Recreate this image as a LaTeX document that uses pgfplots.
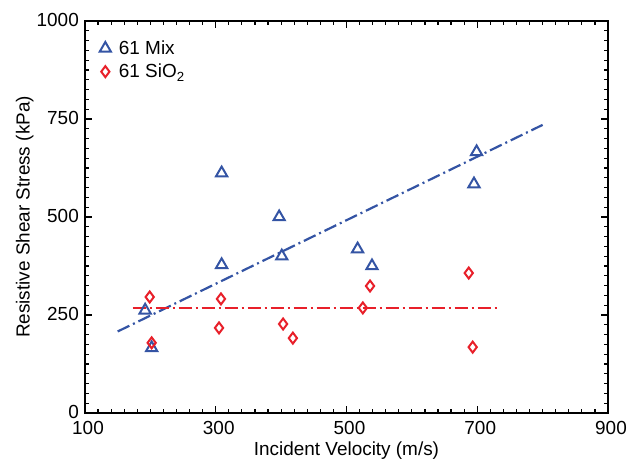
\documentclass[border=0pt]{standalone}
\usepackage{fontspec}
\setmainfont{Liberation Sans}
\usepackage{pgfplots}
\pgfplotsset{compat=1.18}
\definecolor{mixblue}{RGB}{52,84,164}
\definecolor{sired}{RGB}{232,32,42}

\begin{document}
\begin{tikzpicture}
\useasboundingbox (-85bp,-55bp) rectangle (557bp,413bp);
\begin{axis}[
  at={(0,0)}, anchor=south west,
  scale only axis, width=523bp, height=392bp,
  xmin=100, xmax=900, ymin=0, ymax=1000,
  xtick={100,300,500,700,900}, ytick={0,250,500,750,1000},
  minor x tick num=9, minor y tick num=9,
  tick align=inside, xtick pos=both, ytick pos=both,
  major tick length=7bp, minor tick length=4bp,
  every tick/.style={black, line width=1.2bp},
  axis line style={line width=1.8bp},
  tick label style={font=\fontsize{19}{22}\selectfont, inner sep=1bp},
  xticklabel style={yshift=-7bp, xshift=3bp},
  yticklabel style={xshift=-5bp, yshift=1bp},
  label style={font=\fontsize{19}{22}\selectfont},
  /pgf/number format/assume math mode=true,
  /pgf/number format/1000 sep={},
  scaled ticks=false,
  xlabel={Incident Velocity (m/s)},
  ylabel={Resistive Shear Stress (kPa)},
  xlabel style={at={(axis description cs:0.5,-0.096)}, anchor=center},
  ylabel style={at={(axis description cs:-0.115,0.5)}, anchor=center},
  legend style={at={(axis description cs:0.022,0.96)}, anchor=north west,
    draw=none, fill=none, font=\fontsize{19}{22}\selectfont, row sep=4bp,
    /tikz/every odd column/.append style={column sep=6bp}},
  legend cell align=left,
]
\addplot[only marks, mark=triangle, mark size=6.5bp, mixblue, line width=2bp]
  coordinates {(192,262) (202,166) (309,612) (309,378) (401,400) (397,500)
               (517,418) (539,375) (699,666) (695,584)};
\addlegendentry{61 Mix}
\addplot[only marks, mark=diamond, mark size=5.5bp, sired, line width=2bp]
  coordinates {(199,296) (202,179) (308,291) (305,217) (403,227) (418,191)
               (536,324) (525,268) (687,357) (693,168)};
\addlegendentry{61 SiO\textsubscript{2}}
\addplot[mixblue, line width=2.2bp, dash pattern=on 13bp off 4bp on 2bp off 4bp, forget plot]
  coordinates {(150,208) (800,735)};
\addplot[sired, line width=2.2bp, dash pattern=on 13bp off 4bp on 2bp off 4bp, forget plot]
  coordinates {(173,267) (733,267)};
\end{axis}
\end{tikzpicture}
\end{document}
